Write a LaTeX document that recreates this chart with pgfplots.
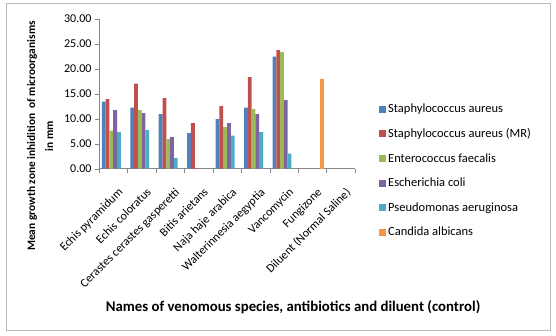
\documentclass[border=0pt]{standalone}
\usepackage{pgfplots}
\pgfplotsset{compat=1.18}
\usepackage{fontspec}
\setmainfont{Carlito}
\definecolor{c1}{HTML}{4F81BD}
\definecolor{c2}{HTML}{C0504D}
\definecolor{c3}{HTML}{9BBB59}
\definecolor{c4}{HTML}{8064A2}
\definecolor{c5}{HTML}{4BACC6}
\definecolor{c6}{HTML}{F79646}
\definecolor{axisgray}{HTML}{868686}
\newcommand\tickfont{\fontsize{12}{14}\selectfont}
\newcommand\legfont{\fontsize{12.5}{15}\selectfont}
\newcommand\xlabfont{\fontsize{14.8}{17}\selectfont\bfseries}
\newcommand\ylabfont{\fontsize{11.4}{14}\selectfont\bfseries}
\begin{document}
\begin{tikzpicture}
\begin{axis}[
  at={(99pt,167.3pt)}, anchor=south west,
  scale only axis, width=256pt, height=150pt,
  xmin=-0.5, xmax=8.5, ymin=0, ymax=30,
  ybar=0pt, bar width=3.79pt,
  axis x line*=bottom, axis y line*=left,
  axis line style={draw=axisgray},
  tick align=outside,
  major tick length=4pt, minor tick length=4pt,
  ytick={0,5,...,30},
  y tick style={draw=axisgray},
  yticklabel style={/pgf/number format/.cd, fixed, fixed zerofill, precision=2, assume math mode=true},
  xtick={0,...,8},
  major x tick style={draw=none},
  minor xtick={-0.5,0.5,...,8.5},
  minor x tick style={draw=axisgray},
  xticklabels={Echis pyramidum, Echis coloratus, Cerastes cerastes gasperetti, Bitis arietans, Naja haje arabica, Walterinnesia aegyptia, Vancomycin, Fungizone, Diluent (Normal Saline)},
  tick label style={font=\tickfont},
  xticklabel style={rotate=45, anchor=north east, inner sep=1pt, xshift=-6pt, yshift=-12pt},
  xlabel={Names of venomous species, antibiotics and diluent (control)},
  xlabel style={at={(axis description cs:0.758,-0.922)}, anchor=center, font=\xlabfont},
  ylabel={Mean growth zone inhidition\ \ of microorganisms\\[4pt] in mm},
  ylabel style={at={(axis description cs:-0.23,0.218)}, anchor=center, align=center, font=\ylabfont},
  legend style={at={(1.082,0.458)}, anchor=north west, draw=none, fill=none, font=\legfont, nodes={font=\legfont}, row sep=10.3pt, legend cell align=left},
  legend image code/.code={\fill[#1] (0pt,-3.5pt) rectangle (7pt,3.5pt);},
]
\addplot[fill=c1, draw=none] coordinates {(0,13.4) (1,12.2) (2,10.9) (3,7.1) (4,9.9) (5,12.2) (6,22.4)};
\addplot[fill=c2, draw=none] coordinates {(0,13.9) (1,17.0) (2,14.1) (3,9.1) (4,12.5) (5,18.3) (6,23.7)};
\addplot[fill=c3, draw=none] coordinates {(0,7.6) (1,11.7) (2,5.9) (4,8.3) (5,11.9) (6,23.3)};
\addplot[fill=c4, draw=none] coordinates {(0,11.7) (1,11.1) (2,6.3) (4,9.1) (5,10.9) (6,13.7)};
\addplot[fill=c5, draw=none] coordinates {(0,7.3) (1,7.7) (2,2.1) (4,6.6) (5,7.3) (6,3.0)};
\addplot[fill=c6, draw=none] coordinates {(7,17.9)};
\legend{\legfont Staphylococcus aureus, \legfont Staphylococcus aureus (MR), \legfont Enterococcus faecalis, \legfont Escherichia coli, \legfont Pseudomonas aeruginosa, \legfont Candida albicans}
\end{axis}
\draw[gray!55, line width=1pt] (6pt,5pt) rectangle (550pt,332pt);
\pgfresetboundingbox
\path (0pt,0pt) rectangle (556pt,336pt);
\end{tikzpicture}
\end{document}
